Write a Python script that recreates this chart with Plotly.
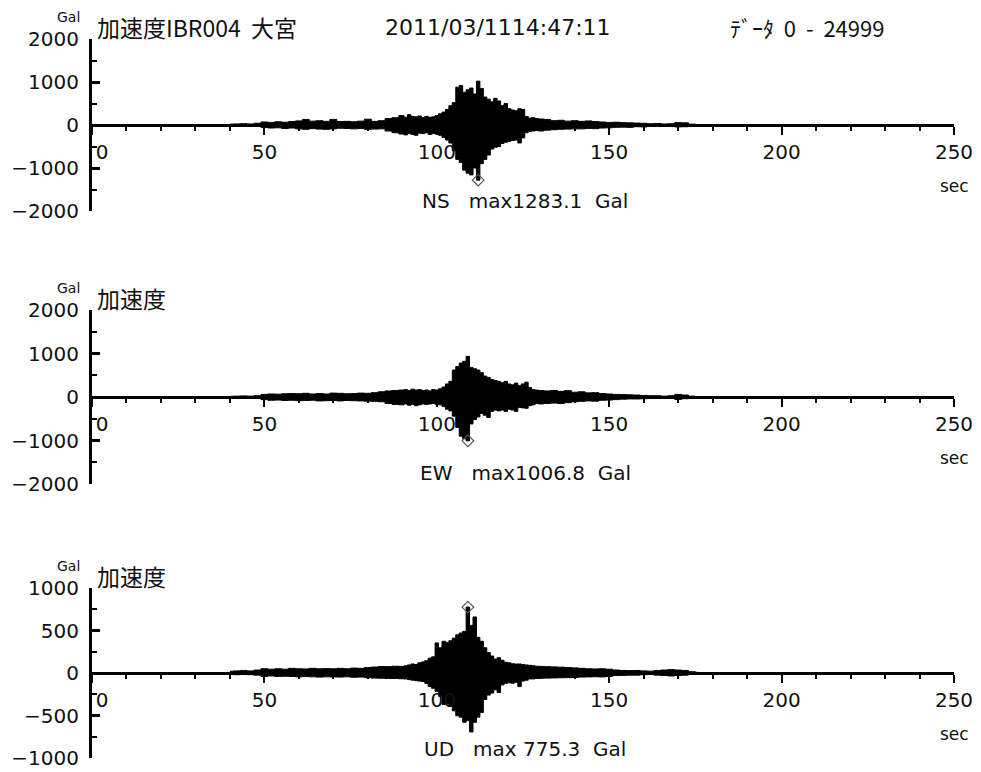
import plotly.graph_objects as go

# Sample times (s) of the amplitude envelope
T = list(range(40, 90, 2)) + list(range(90, 131)) + list(range(132, 178, 2))

# NS component: upper / lower envelope (Gal)
NS_HI = [20, 25, 30, 25, 40, 70, 60, 75, 65, 80, 95, 130, 90, 100, 85, 130, 80, 85, 75, 90, 135, 85, 100, 150, 170,
         220, 180, 240, 200, 190, 210, 170, 200, 180, 190, 220, 260, 300, 360, 450, 520, 880, 920, 760, 820, 860, 720,
         1020, 850, 650, 600, 540, 620, 560, 450, 500, 380, 350, 330, 380, 360, 200, 160, 170, 150, 140,
         130, 100, 110, 90, 100, 85, 95, 80, 70, 60, 65, 55, 50, 45, 40, 30, 35, 25, 30, 55, 50, 20, 10]
NS_LO = [-20, -20, -25, -30, -35, -60, -70, -65, -80, -70, -90, -100, -85, -95, -100, -90, -75, -80, -90, -80, -100,
         -95, -90, -140, -180,
         -210, -230, -200, -220, -240, -190, -200, -180, -220, -200, -210, -240, -290, -350, -420, -600, -800, -870,
         -1050, -1120, -1160, -1000, -1283.1, -900, -800, -700, -560, -520, -500, -430, -400, -380, -360, -350, -420,
         -300, -180, -150, -140, -130, -140,
         -120, -110, -100, -95, -90, -90, -80, -85, -70, -65, -55, -50, -55, -40, -45, -30, -25, -30, -25, -45, -40,
         -20, -10]

# EW component
EW_HI = [15, 20, 25, 20, 30, 60, 70, 65, 75, 80, 75, 85, 70, 80, 70, 90, 85, 75, 80, 90, 85, 100, 120, 140, 150,
         160, 170, 150, 180, 160, 170, 150, 160, 140, 170, 160, 190, 230, 300, 360, 620, 700, 780, 820, 935, 680, 650,
         620, 560, 480, 450, 400, 380, 360, 330, 360, 300, 280, 320, 260, 300, 340, 220, 170, 160, 150,
         140, 150, 130, 145, 110, 120, 95, 100, 80, 70, 60, 55, 50, 45, 35, 30, 30, 20, 30, 60, 45, 20, 10]
EW_LO = [-15, -15, -20, -25, -25, -60, -75, -70, -80, -75, -85, -80, -75, -90, -85, -80, -90, -80, -85, -90, -95,
         -100, -110, -150, -170,
         -180, -160, -190, -170, -200, -180, -160, -170, -160, -150, -170, -180, -220, -280, -320, -440, -700, -900,
         -960, -1006.8, -620, -520, -460, -380, -420, -470, -330, -300, -320, -300, -330, -280, -300, -330, -240,
         -250, -260, -200, -180, -150, -160,
         -150, -140, -150, -130, -110, -100, -90, -95, -75, -70, -60, -50, -45, -45, -40, -25, -30, -20, -25, -55,
         -40, -20, -10]

# UD component
UD_HI = [20, 25, 30, 25, 35, 50, 45, 50, 45, 55, 50, 48, 55, 50, 52, 50, 55, 50, 58, 55, 65, 70, 76, 75, 80,
         78, 85, 95, 107, 100, 120, 130, 145, 175, 190, 354, 297, 373, 360, 380, 410, 450, 470, 490, 775.3, 560, 660,
         420, 373, 297, 240, 200, 164, 180, 150, 126, 120, 110, 105, 107, 100, 95, 90, 85, 80, 78,
         75, 72, 69, 65, 60, 55, 50, 48, 50, 45, 35, 30, 28, 30, 25, 22, 30, 35, 40, 35, 30, 15, 8]
UD_LO = [-15, -20, -15, -20, -25, -40, -35, -40, -38, -40, -45, -42, -45, -48, -45, -46, -48, -45, -50, -48, -55,
         -60, -62, -65, -65,
         -68, -70, -78, -84, -90, -95, -100, -122, -160, -180, -217, -274, -370, -360, -390, -445, -503, -520, -580,
         -560, -693, -580, -520, -465, -312, -260, -236, -198, -230, -140, -122, -115, -120, -110, -160, -95, -85,
         -70, -70, -65, -62,
         -60, -58, -56, -55, -53, -48, -46, -44, -46, -40, -30, -28, -25, -25, -20, -18, -25, -30, -35, -30, -25,
         -12, -8]

COMPONENTS = ["NS", "EW", "UD"]
HI = [NS_HI, EW_HI, UD_HI]
LO = [NS_LO, EW_LO, UD_LO]
Y_LIMITS = [2000, 2000, 1000]
Y_TICKS = [[-2000, -1000, 0, 1000, 2000], [-2000, -1000, 0, 1000, 2000], [-1000, -500, 0, 500, 1000]]
X_TICKS = [0, 50, 100, 150, 200, 250]

TITLE_MAIN = "加速度IBR004 大宮"
TITLE_SUB = "加速度"
DATE_TEXT = "2011/03/1114:47:11"
RANGE_TEXT = "ﾃﾞｰﾀ 0 - 24999"

W, H = 981, 772
LATIN = "DejaVu Sans, Noto Sans CJK JP, sans-serif"
CJK = "Noto Sans CJK JP, DejaVu Sans, sans-serif"
NB = "\u00a0"

# panel placement in pixels (top, bottom)
PANELS_PX = [(39, 211), (310, 484), (588, 758)]
X_LEFT, X_RIGHT = 92, 954


def py(px):
    return 1 - px / H


def pxx(px):
    return px / W


fig = go.Figure()
annotations = []

for i, comp in enumerate(COMPONENTS):
    n = i + 1
    xa = "x" if n == 1 else f"x{n}"
    ya = "y" if n == 1 else f"y{n}"
    top, bot = PANELS_PX[i]
    dom = [py(bot), py(top)]
    mid = (dom[0] + dom[1]) / 2
    zero_px = (top + bot) / 2
    lim = Y_LIMITS[i]

    hi, lo = HI[i], LO[i]
    fig.add_trace(go.Scatter(
        x=T + T[::-1], y=hi + lo[::-1], mode="lines", fill="toself",
        fillcolor="black", line=dict(color="black", width=1, shape="hvh"),
        xaxis=xa, yaxis=ya, showlegend=False, hoverinfo="skip"))

    # peak marker
    cand = [(abs(v), t, v) for t, v in zip(T, hi)] + [(abs(v), t, v) for t, v in zip(T, lo)]
    amax, tpk, vpk = max(cand)
    fig.add_trace(go.Scatter(
        x=[tpk], y=[vpk], mode="markers",
        marker=dict(symbol="diamond-open", size=9, color="#555", line=dict(width=1.2)),
        xaxis=xa, yaxis=ya, showlegend=False))

    xkw = dict(domain=[pxx(X_LEFT), pxx(X_RIGHT)], range=[0, 250], anchor="free", position=mid,
               showgrid=False, zeroline=False, automargin=False)
    # lower axis: line, downward ticks, labels
    fig.layout[f"xaxis{'' if n == 1 else n}"] = dict(
        **xkw, showline=True, linecolor="black", linewidth=3,
        tickmode="array", tickvals=X_TICKS,
        ticktext=["\u20030"] + [str(v) for v in X_TICKS[1:]],
        ticks="outside", ticklen=8, tickwidth=2, tickcolor="black",
        minor=dict(dtick=10, ticks="outside", ticklen=4, tickwidth=1.5, tickcolor="black"),
        tickfont=dict(family=LATIN, size=20, color="#111"), ticklabelstandoff=0)
    # overlay axis: upward halves of the same ticks
    fig.layout[f"xaxis{n + 3}"] = dict(
        **xkw, overlaying=xa, side="bottom", showline=False,
        tickmode="array", tickvals=X_TICKS, showticklabels=False,
        ticks="inside", ticklen=8, tickwidth=2, tickcolor="black",
        minor=dict(dtick=10, ticks="inside", ticklen=4, tickwidth=1.5, tickcolor="black"))

    fig.layout[f"yaxis{'' if n == 1 else n}"] = dict(
        domain=dom, range=[-lim, lim], anchor=xa, showgrid=False, zeroline=False, automargin=False,
        showline=True, linecolor="black", linewidth=3,
        tickmode="array", tickvals=Y_TICKS[i],
        ticks="inside", ticklen=8, tickwidth=2.5, tickcolor="black",
        minor=dict(dtick=lim / 4, ticks="inside", ticklen=5, tickwidth=1.5, tickcolor="black"),
        tickfont=dict(family=LATIN, size=20, color="#111"), ticklabelstandoff=6)

    # headings
    annotations.append(dict(text="Gal", x=pxx(82), y=py(top - 22), xanchor="right", yanchor="middle",
                            font=dict(family=LATIN, size=14, color="#111")))
    annotations.append(dict(text=TITLE_MAIN.replace(" ", NB + NB) if n == 1 else TITLE_SUB,
                            x=pxx(95), y=py(top - 12),
                            xanchor="left", yanchor="middle", font=dict(family=CJK, size=23, color="#111")))
    annotations.append(dict(text="sec", x=pxx(954), y=py(zero_px + 61), xanchor="center",
                            yanchor="middle", font=dict(family=LATIN, size=17, color="#111")))
    label = f"{comp}   max{amax:6.1f}  Gal".replace(" ", NB)
    annotations.append(dict(text=label, x=pxx(525), y=py(zero_px + 76), xanchor="center", yanchor="middle",
                            font=dict(family=LATIN, size=20, color="#111")))

annotations.append(dict(text=DATE_TEXT, x=pxx(383), y=py(27), xanchor="left", yanchor="middle",
                        font=dict(family=LATIN, size=22, color="#111")))
annotations.append(dict(text=RANGE_TEXT.replace(" ", NB + NB), x=pxx(728), y=py(27), xanchor="left",
                        yanchor="middle", font=dict(family=CJK, size=22, color="#111")))

for a in annotations:
    a.update(xref="paper", yref="paper", showarrow=False)

fig.update_layout(width=W, height=H, margin=dict(l=0, r=0, t=0, b=0, autoexpand=False),
                  plot_bgcolor="white", paper_bgcolor="white", annotations=annotations)

fig.write_html("out.html", config={"displayModeBar": False})
